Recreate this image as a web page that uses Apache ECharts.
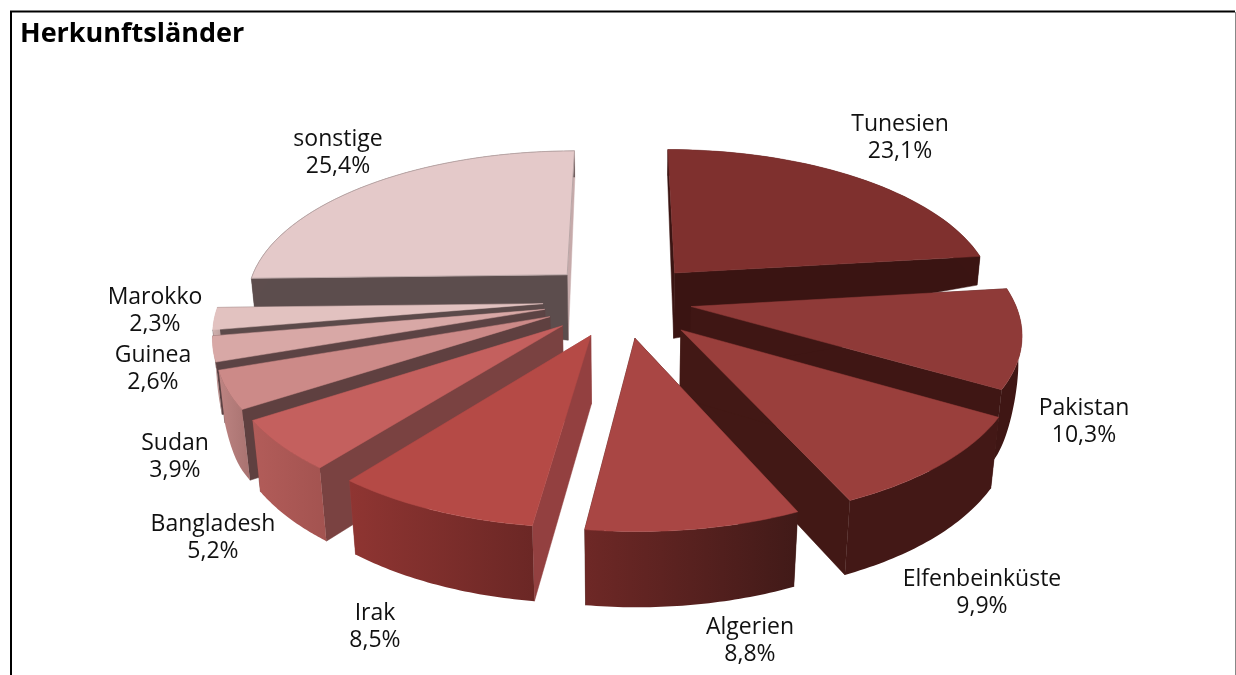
<!DOCTYPE html>
<html><head><meta charset="utf-8">
<style>html,body{margin:0;padding:0;background:#fff}#c{width:1236px;height:675px}</style>
<script src="https://cdn.jsdelivr.net/npm/echarts@6/dist/echarts.min.js"></script>
</head><body><div id="c"></div>
<script>
// Data
const categories = ['Tunesien','Pakistan','Elfenbeinküste','Algerien','Irak','Bangladesh','Sudan','Guinea','Marokko','sonstige'];
const shares = [23.1,10.3,9.9,8.8,8.5,5.2,3.9,2.6,2.3,25.4];

// Styles (same order as categories)
const topColors = ['#7f302e','#8f3a38','#9a3f3c','#a94644','#b54a46','#c4605e','#cc8a88','#d8a8a6','#e2c2c0','#e4c9c9'];
const arcFrom   = ['#3b1412','#3f1614','#431816','#6e2826','#8f3532','#b25c59','#bd8482','#c79a98','#cfb0ae','#5d4d4d'];
const arcTo     = ['#3b1412','#3f1614','#431816','#411a18','#6b2725','#a35350','#a87270','#b58c8a','#bfa2a0','#5d4d4d'];
const wallStart = ['#3a1412','#3f1614','#421815','#421815','#934040','#7a4241','#5f4040','#5c4344','#5c4a4a','#5c4d4d'];
const wallEnd   = ['#3a1412','#3f1614','#421815','#421815','#934040','#7a4241','#5f4040','#5c4344','#5c4a4a','#c6aaaa'];
const paintOrder = [9,0,8,7,6,5,1,2,4,3];
const labelCenters = [[900,138],[1084,422],[982,593],[750,641],[375,627],[213,538],[175,457],[153,369],[155,311],[338,153]];
const explodes = [80,69,84,80,80,80,80,80,80,80];

// Projection / layout
const cx = 623, cy = 300, R = 323;
const sinE = 0.465, cosE = 0.885, D = 1850;
const hApex = 68, hBack = 30, hFront = 67;

function smooth(a,b,x){const t=Math.max(0,Math.min(1,(x-a)/(b-a)));return t*t*(3-2*t);}
function project(X,Y,z){
  const s = D/(D-(Y*cosE+z*sinE));
  return [cx+X*s, cy+(Y*sinE-z*cosE)*s];
}
function depthAt(theta,frac){
  const out = hBack+(hFront-hBack)*smooth(0.12,0.5,-Math.cos(theta));
  return (hApex+(out-hApex)*frac)/cosE;
}
const total = shares.reduce((a,b)=>a+b,0);
const startAngles = [];
shares.reduce((acc,v,i)=>{startAngles[i]=acc;return acc+v/total*2*Math.PI;},0);

function renderSlice(params,api){
  const i = api.value(0);
  const a = startAngles[i], b = a+shares[i]/total*2*Math.PI, mid=(a+b)/2;
  const ax = explodes[i]*Math.sin(mid), ay = -explodes[i]*Math.cos(mid);
  const pt = (th,frac,bottom)=>{
    const X=ax+R*frac*Math.sin(th), Y=ay-R*frac*Math.cos(th);
    return project(X,Y,bottom?-depthAt(th,frac):0);
  };
  const N=40, topArc=[], botArc=[];
  for(let k=0;k<=N;k++){const th=a+(b-a)*k/N;topArc.push(pt(th,1,false));botArc.push(pt(th,1,true));}
  const radial=(th)=>{
    const up=[],dn=[];
    for(let k=0;k<=8;k++){up.push(pt(th,k/8,false));dn.unshift(pt(th,k/8,true));}
    return up.concat(dn);
  };
  const children=[
    {type:'polygon',shape:{points:radial(b)},style:{fill:wallEnd[i],stroke:wallEnd[i],lineWidth:0.5}},
    {type:'polygon',shape:{points:radial(a)},style:{fill:wallStart[i],stroke:wallStart[i],lineWidth:0.5}},
    {type:'polygon',shape:{points:topArc.concat(botArc.slice().reverse())},
     style:{fill:{type:'linear',x:0,y:0,x2:1,y2:0,colorStops:[{offset:0,color:arcFrom[i]},{offset:1,color:arcTo[i]}]}}},
    {type:'polygon',shape:{points:[pt(a,0,false)].concat(topArc)},
     style:{fill:topColors[i],stroke:i===9?'#b9a6a6':topColors[i],lineWidth:i===9?1:0.5}},
    {type:'text',style:{x:labelCenters[i][0],y:labelCenters[i][1],
      text:categories[i]+'\n'+shares[i].toFixed(1).replace('.',',')+'%',
      fill:'#111',font:'23px "Open Sans"',lineHeight:27,align:'center',verticalAlign:'middle'}}
  ];
  return {type:'group',children};
}

const chart = echarts.init(document.getElementById('c'),null,{renderer:'canvas'});
chart.setOption({
  animation:false,
  title:{text:'Herkunftsländer',left:15,top:16,textStyle:{fontFamily:'"Open Sans"',fontWeight:'bold',fontSize:27,color:'#000'}},
  graphic:[
    {type:'polyline',silent:true,shape:{points:[[11,680],[11,11.5],[1235,11.5]]},style:{stroke:'#000',lineWidth:2,fill:null}},
    {type:'line',silent:true,shape:{x1:1235.5,y1:12,x2:1235.5,y2:680},style:{stroke:'#888',lineWidth:1}}
  ],
  series:[{type:'custom',coordinateSystem:'none',silent:true,renderItem:renderSlice,
    data:paintOrder.map(i=>[i,shares[i]])}]
});
</script></body></html>
